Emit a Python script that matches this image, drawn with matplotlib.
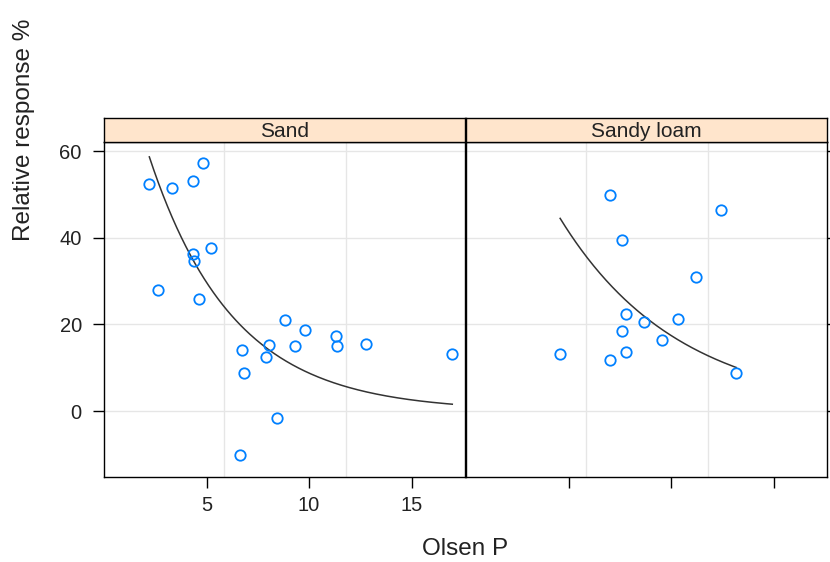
import matplotlib.pyplot as plt
import numpy as np

plt.rcParams['font.family'] = ['Liberation Sans', 'DejaVu Sans']

# Olsen P vs relative response, by soil type
sand_p = [2.21, 3.30, 4.33, 4.85, 4.36, 4.41, 5.24, 2.62, 4.63, 8.81, 9.79,
          11.32, 11.38, 9.32, 8.02, 7.90, 6.72, 6.81, 12.78, 16.98, 8.42, 6.63]
sand_resp = [52.5, 51.6, 53.2, 57.2, 36.2, 34.7, 37.6, 28.0, 25.8, 21.0, 18.8,
             17.4, 15.1, 15.1, 15.2, 12.5, 14.0, 8.8, 15.4, 13.2, -1.5, -10.1]

loam_p = [7.01, 12.41, 7.59, 11.19, 7.79, 8.67, 10.36, 7.59, 9.58, 4.59,
          7.01, 7.79, 13.17]
loam_resp = [49.8, 46.5, 39.5, 31.0, 22.5, 20.6, 21.3, 18.4, 16.5, 13.2,
             11.8, 13.6, 8.8]

# fitted y = a * exp(-b * x) for each soil
fits = {'Sand': (100.6, 0.244), 'Sandy loam': (98.4, 0.173)}

panels = [('Sand', sand_p, sand_resp), ('Sandy loam', loam_p, loam_resp)]

fig = plt.figure(figsize=(8.3, 5.62), dpi=100)
W, H = 830, 562
x0s = [104, 466]
pw = 361
ytop, ybot = 142, 477
strip_h = 24

for i, (name, xs, ys) in enumerate(panels):
    left = x0s[i] / W
    ax = fig.add_axes([left, 1 - ybot / H, pw / W, (ybot - ytop) / H])
    ax.set_xlim(0, 17.6)
    ax.set_ylim(-15.2, 62.1)

    for gx in [5.85, 11.8]:
        ax.axvline(gx, color='#e6e6e6', lw=1, zorder=0)
    for gy in [0, 20, 40, 60]:
        ax.axhline(gy, color='#e6e6e6', lw=1, zorder=0)

    ax.plot(xs, ys, 'o', mfc='none', mec='#0080ff', ms=7.5, mew=1.3, zorder=3)

    a, b = fits[name]
    xx = np.linspace(min(xs), max(xs), 200)
    ax.plot(xx, a * np.exp(-b * xx), color='#333333', lw=1.1, zorder=2)

    ax.set_xticks([5, 10, 15])
    ax.set_yticks([0, 20, 40, 60])
    ax.tick_params(length=8, width=1, labelsize=14.5, pad=6, color='black',
                   labelcolor='#222222')
    if i == 0:
        ax.tick_params(axis='y', left=True, right=False, labelleft=True, pad=8)
    else:
        ax.tick_params(axis='y', left=False, right=True, labelleft=False,
                       labelright=False)
        ax.tick_params(axis='x', labelbottom=False)
    for s in ax.spines.values():
        s.set_linewidth(1)

    # strip
    sax = fig.add_axes([left, 1 - ytop / H, pw / W, strip_h / H])
    sax.set_facecolor('#ffe5cc')
    sax.set_xticks([])
    sax.set_yticks([])
    for s in sax.spines.values():
        s.set_linewidth(1)
    sax.text(0.5, 0.45, name, ha='center', va='center', fontsize=15,
             color='#222222', transform=sax.transAxes)

fig.text(465 / W, 1 - 549 / H, 'Olsen P', ha='center', va='center',
         fontsize=17.5, color='#222222')
fig.text(24 / W, 1 - 130 / H, 'Relative response %', ha='center', va='center',
         rotation=90, fontsize=17.5, color='#222222')

plt.savefig('out.png', dpi=100)
